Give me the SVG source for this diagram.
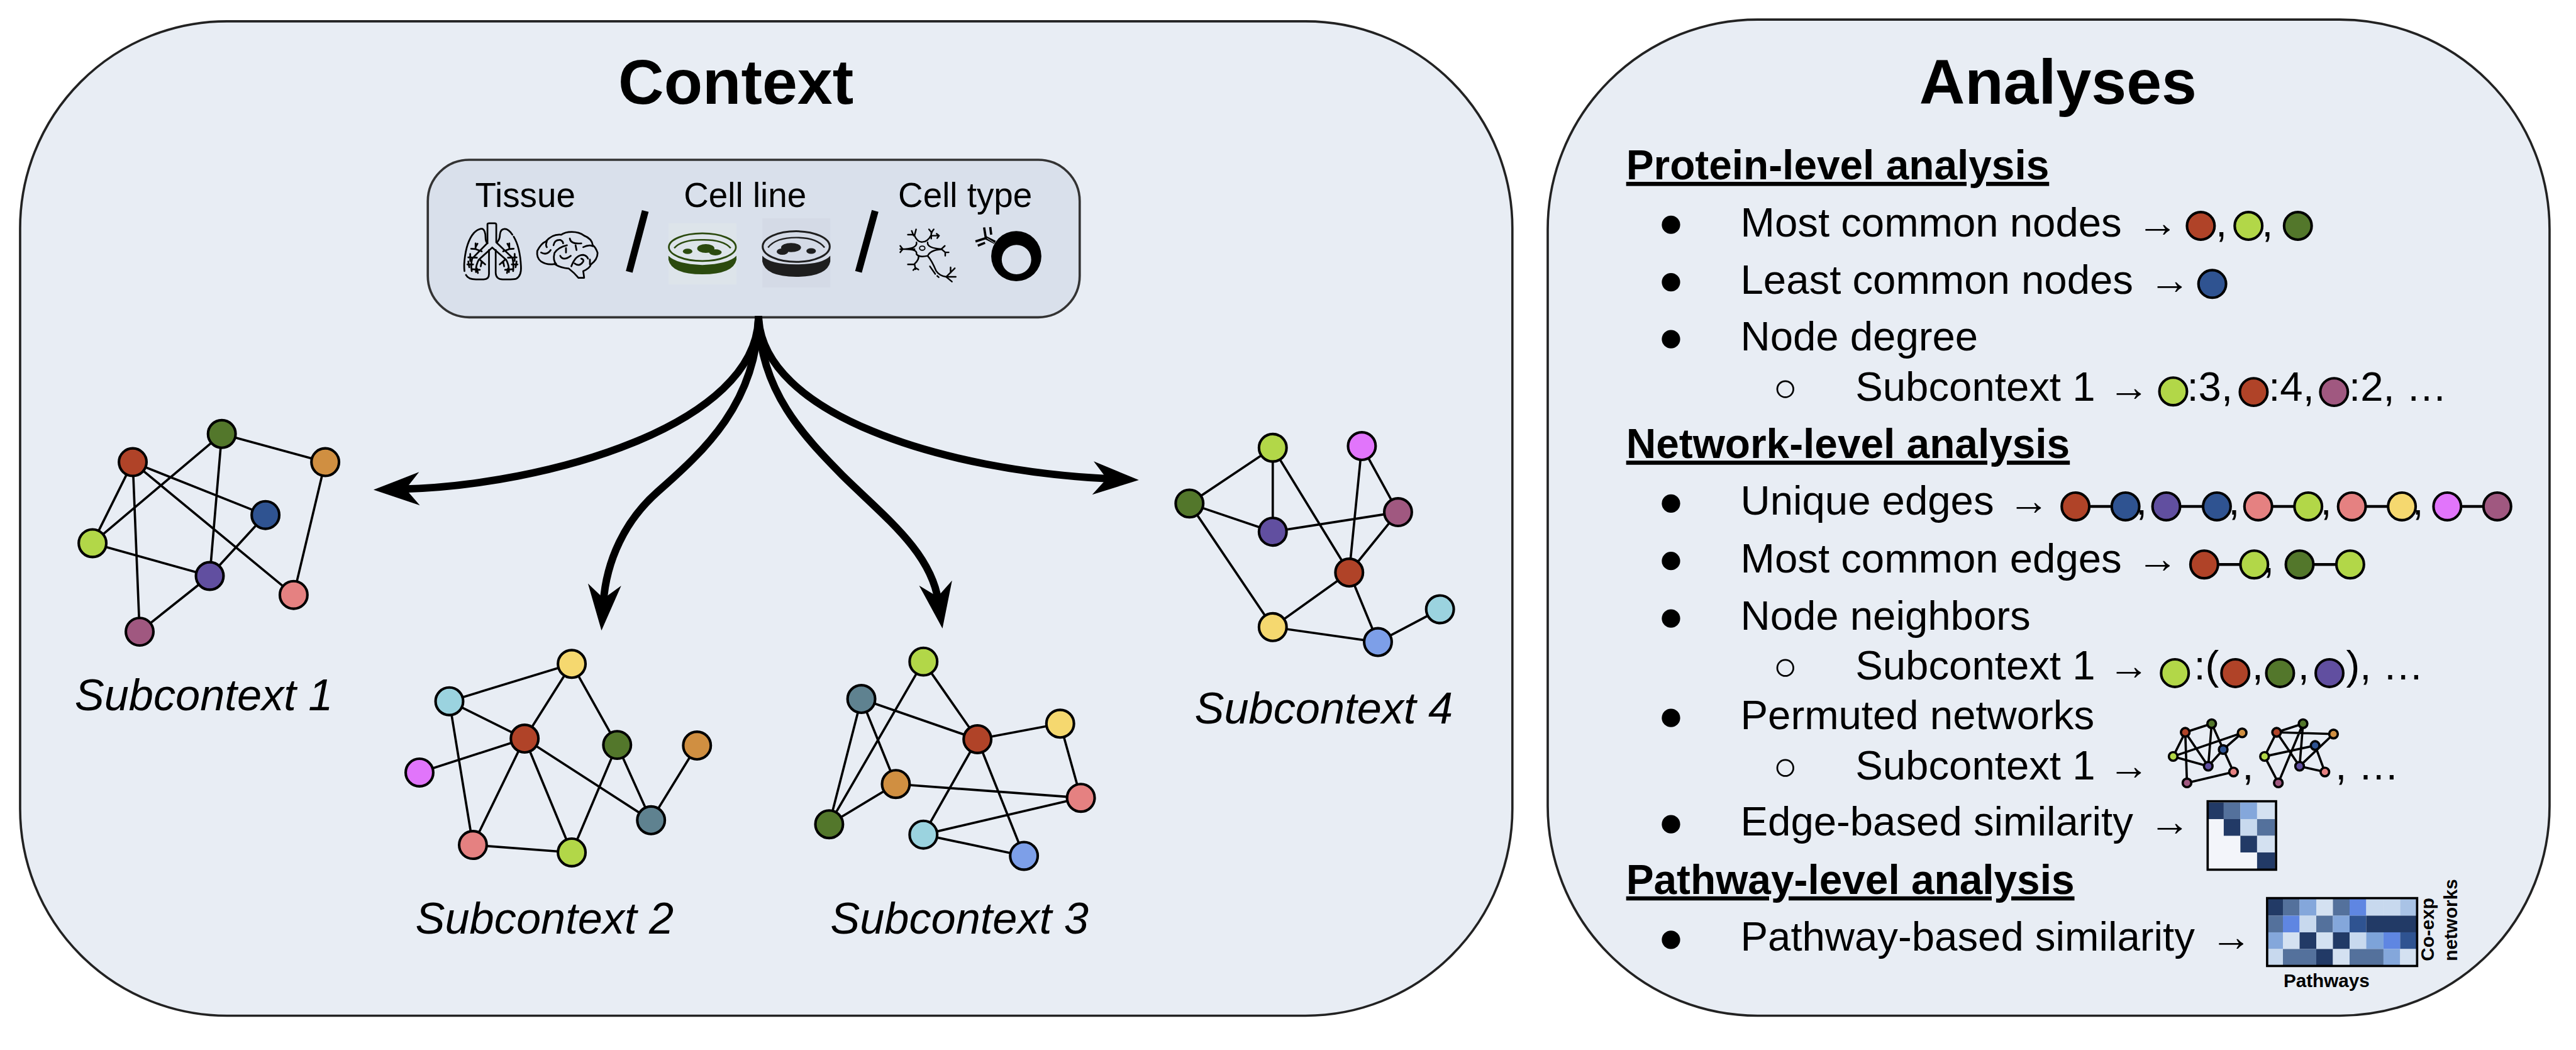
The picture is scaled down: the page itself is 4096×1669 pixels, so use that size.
<svg xmlns="http://www.w3.org/2000/svg" width="4096" height="1669" viewBox="0 0 4096 1669">
<style>
text{font-family:"Liberation Sans",Arial,sans-serif;fill:#000}
.title{font-size:110px;font-weight:700}
.sub{font-size:77px;font-style:italic}
.ctx{font-size:60px}
.t{font-size:71.5px}
.h{font-size:72px;font-weight:700;text-decoration:underline;text-decoration-skip-ink:none}
.s{font-size:32.5px;font-weight:700}
.panel{fill:#E8EDF4;stroke:#222;stroke-width:4}
.e{stroke:#000;stroke-width:4;fill:none}
.il{stroke:#000;stroke-width:5;fill:none}
.me{stroke:#000;stroke-width:4;fill:none}
.a{stroke:#000;stroke-width:13;fill:none;marker-end:url(#head)}
.n{stroke:#000;stroke-width:4.5}
.m{stroke:#000;stroke-width:4}
.bul{fill:#000}
.hol{fill:none;stroke:#000;stroke-width:3}
.red{fill:#B04328}.grn{fill:#53772B}.org{fill:#D08F41}.blu{fill:#2F5391}.lim{fill:#B2D748}.pur{fill:#614FA0}.pnk{fill:#E58181}.mau{fill:#A05880}.yel{fill:#F5D86F}.cya{fill:#9BD3DF}.mag{fill:#E175FB}.ste{fill:#5F8290}.per{fill:#7D9FE8}
.d{fill:#223A66}.k{fill:#54719C}.b{fill:#84A7DB}.p{fill:#D4E1F1}.q{fill:#C8D9EE}.v{fill:#5F86E2}.w{fill:#2F5391}.x{fill:#A9C3E6}.y{fill:#7DA3D9}.o{fill:#F3F5FA}
.ic{fill:none;stroke:#000;stroke-linecap:round;stroke-linejoin:round}
</style>
<defs>
<marker id="head" markerUnits="userSpaceOnUse" viewBox="-40 -35 95 70" refX="0" refY="0" markerWidth="95" markerHeight="70" orient="auto"><path d="M48,0 L-32,-29 L-8,0 L-32,29 Z" fill="#000"/></marker>
<g id="lungbr"><path d="M130,172 L98,160 M98,130 V160 M75,158 L98,160 M108,132 L98,150 M105,205 L60,203 M70,185 V222 M85,240 L55,240 M60,225 L65,255 M78,265 L120,268 M105,262 L110,285 M120,215 L148,240 M130,225 L125,250"/></g>
</defs>
<g transform="scale(0.91367)">
<g id="context-panel"><rect class="panel" x="35" y="37" width="2597" height="1730" rx="360" ry="360"/></g>
<g id="analyses-panel"><rect class="panel" x="2693.500" y="34" width="1743.500" height="1733" rx="365" ry="365"/></g>
<g id="context-box">
<rect x="744.500" y="278" width="1134.500" height="274" rx="72" ry="72" fill="#D9E0EB" stroke="#333" stroke-width="4"/>
<text class="ctx" x="827" y="360">Tissue</text>
<text class="ctx" x="1190" y="360">Cell line</text>
<text class="ctx" x="1563" y="360">Cell type</text>
<path d="M1123,367 L1095,473 M1523,367 L1494,473" stroke="#000" stroke-width="12" fill="none"/>
<g id="icon-lungs" transform="translate(795,380) scale(0.3333)" class="ic" stroke-width="9">
<path d="M160,128 V30 Q160,25 170,25 H198 Q206,25 206,32 V125 L290,205 Q298,235 294,275 M160,128 L80,210 Q72,240 78,275 M185,152 L115,215 Q98,245 100,280 M185,152 L257,215 Q274,245 272,280"/>
<path d="M135,55 Q115,50 90,75 Q50,120 40,220 Q37,250 40,275 M48,295 Q60,318 100,318 H140 Q168,318 168,290 V165 M135,55 Q150,65 150,100 Q150,120 160,130"/>
<path d="M210,125 Q225,110 225,85 Q228,55 250,55 Q270,55 290,85 M297,95 Q330,150 335,250 Q338,300 310,315 Q290,320 240,318 Q205,318 203,285 V165"/>
<use href="#lungbr"/><use href="#lungbr" transform="matrix(-1 0 0 1 372 0)"/>
<path d="M465,120 Q440,130 420,170 Q415,205 440,225 Q470,245 510,238 Q540,258 585,262 Q615,285 635,310 H665 L660,275 Q695,260 700,240 Q735,215 735,180 Q725,150 710,140 Q705,105 665,90 Q640,70 600,70 Q565,70 545,85 Q500,80 465,120 Z"/>
<path d="M470,120 Q462,140 470,150 M440,178 Q470,195 490,165 M505,140 Q510,110 540,112 Q555,120 555,130 M590,105 Q595,135 650,130 M620,140 L625,165 M660,150 Q690,135 710,145 M575,140 Q530,150 510,180 Q500,220 520,240 M570,155 V178 M540,195 Q555,225 595,195 M598,250 Q620,190 660,190 Q680,195 685,210 M615,235 Q640,255 660,225 Q665,215 650,210 M695,215 V240"/>
</g>
<g id="icon-dishes" transform="translate(1150,380) scale(0.3333)">
<rect x="40" y="25" width="355" height="320" fill="#DDE4EA"/>
<rect x="530" y="0" width="355" height="360" fill="#D4DAE6"/>
<g fill="#2B4A0E"><ellipse cx="217" cy="150" rx="175" ry="72" fill="none" stroke="#2B4A0E" stroke-width="9"/><path d="M70,155 Q110,110 217,112 Q325,110 365,155" fill="none" stroke="#2B4A0E" stroke-width="8"/><ellipse cx="140" cy="172" rx="25" ry="14"/><ellipse cx="235" cy="157" rx="45" ry="23"/><ellipse cx="285" cy="177" rx="33" ry="16"/><path d="M40,195 Q80,238 217,243 Q355,238 395,195 V215 Q380,290 217,292 Q55,290 40,215 Z"/></g>
<g fill="#1E1E1E"><ellipse cx="707" cy="147" rx="175" ry="80" fill="none" stroke="#1E1E1E" stroke-width="10"/><path d="M560,152 Q600,100 707,100 Q815,100 855,152" fill="none" stroke="#1E1E1E" stroke-width="8"/><ellipse cx="785" cy="170" rx="25" ry="15"/><ellipse cx="680" cy="152" rx="52" ry="24"/><ellipse cx="635" cy="173" rx="30" ry="17"/><path d="M530,195 Q570,240 707,240 Q845,240 885,195 V225 Q870,303 707,305 Q545,303 530,225 Z"/></g>
</g>
<g id="icon-cells" transform="translate(1555,385) scale(0.3333)">
<g class="ic" stroke-width="8">
<ellipse cx="150" cy="140" rx="14" ry="11" stroke-width="6"/>
<path d="M108,72 Q125,110 150,108 Q178,108 197,72 M178,110 Q175,140 250,145 M178,182 Q190,150 250,146 M35,145 H110 M120,110 Q125,140 60,145 M120,170 Q125,145 60,145 M120,172 Q135,190 178,180 Q200,205 222,258 Q240,285 275,290 H325 M130,180 Q135,200 110,222"/>
<path d="M95,50 L105,75 M75,70 H105 M118,42 L110,72 M185,42 L200,60 M210,42 L197,60 V90 M200,75 H235 M225,65 L238,75 L228,88 M250,145 L268,128 M250,145 L270,162 H288 M270,162 V180 M35,128 L48,145 L35,162 M75,225 H110 L115,250 M103,255 L115,243 L130,252 M275,290 L320,245 M298,240 V268 M275,290 L305,315 M190,235 L218,275 M228,285 L236,292"/>
</g>
<path d="M772,182 A131,131 0 1 1 510,182 A131,131 0 1 1 772,182 Z M719,200 A77,77 0 1 0 565,200 A77,77 0 1 0 719,200 Z" fill="#000" fill-rule="evenodd"/>
<path d="M530,110 L480,85" stroke="#000" stroke-width="18" fill="none"/><path d="M482,88 L428,105 M482,88 L473,32" stroke="#000" stroke-width="12" fill="none"/><path d="M440,127 L478,112 M505,30 L510,70" stroke="#000" stroke-width="12" fill="none"/><path d="M488,88 L528,114" stroke="#D9E0EB" stroke-width="3" fill="none"/>
</g>
</g>
<g id="connectors">
<path class="a" d="M1320,550 C1320,740 950,845 698,851"/>
<path class="a" d="M1320,550 C1318,700 1225,785 1145,855 C1088,905 1055,975 1050,1049"/>
<path class="a" d="M1320,550 C1322,680 1400,760 1466,827 C1540,900 1620,960 1633,1046"/>
<path class="a" d="M1320,550 C1325,720 1640,820 1934,833"/>
<g id="edges-subcontext-1"><path class="e" d="M231,804L161,945M231,804L243,1099M231,804L462,896M231,804L511,1035M386,755L161,945M386,755L365,1002M386,755L566,804M566,804L511,1035M462,896L365,1002M161,945L365,1002M365,1002L243,1099"/></g>
<g id="edges-subcontext-2"><path class="e" d="M782,1220L995,1155M782,1220L913,1285M782,1220L823,1470M995,1155L913,1285M995,1155L1074,1296M913,1285L730,1344M913,1285L823,1470M913,1285L995,1483M913,1285L1133,1427M1074,1296L995,1483M1074,1296L1133,1427M1133,1427L1213,1297M823,1470L995,1483"/></g>
<g id="edges-subcontext-3"><path class="e" d="M1607,1151L1443,1434M1607,1151L1701,1286M1499,1216L1701,1286M1499,1216L1443,1434M1499,1216L1559,1364M1701,1286L1845,1259M1701,1286L1607,1452M1701,1286L1782,1489M1845,1259L1881,1388M1559,1364L1881,1388M1559,1364L1443,1434M1881,1388L1607,1452M1607,1452L1782,1489"/></g>
<g id="edges-subcontext-4"><path class="e" d="M2215,779L2070,876M2215,779L2215,925M2215,779L2348,996M2370,776L2348,996M2370,776L2433,891M2070,876L2215,925M2070,876L2215,1091M2215,925L2433,891M2433,891L2348,996M2348,996L2215,1091M2348,996L2398,1117M2215,1091L2398,1117M2398,1117L2506,1060"/></g>
<g id="edges-inline"><path class="il" d="M3612,881H3699M3770,881H3858M3930,881H4017M4093,881H4180M4259,881H4346M3836,982H3923M4002,982H4090"/></g>
<g id="edges-perm-1"><path class="me" d="M3803,1274L3849,1259M3803,1274L3782,1316M3803,1274L3806,1362M3803,1274L3843,1333M3849,1259L3843,1333M3849,1259L3887,1343M3902,1275L3782,1316M3902,1275L3869,1304M3869,1304L3843,1333M3782,1316L3843,1333M3806,1362L3887,1343"/></g>
<g id="edges-perm-2"><path class="me" d="M3962,1274L4008,1259M3962,1274L4061,1277M3962,1274L3941,1316M3962,1274L4002,1333M4008,1259L3965,1362M4008,1259L4002,1333M4061,1277L4002,1333M3941,1316L4029,1297M3941,1316L3965,1362M4029,1297L4046,1343M4002,1333L4046,1343"/></g>
</g>
<g id="subcontext-1">
<g id="s1-green"><circle class="n grn" cx="386" cy="755" r="24"/></g><g id="s1-red"><circle class="n red" cx="231" cy="804" r="24"/></g><g id="s1-orange"><circle class="n org" cx="566" cy="804" r="24"/></g><g id="s1-blue"><circle class="n blu" cx="462" cy="896" r="24"/></g><g id="s1-lime"><circle class="n lim" cx="161" cy="945" r="24"/></g><g id="s1-purple"><circle class="n pur" cx="365" cy="1002" r="24"/></g><g id="s1-pink"><circle class="n pnk" cx="511" cy="1035" r="24"/></g><g id="s1-mauve"><circle class="n mau" cx="243" cy="1099" r="24"/></g>
<text class="sub" x="130" y="1236">Subcontext 1</text>
</g>
<g id="subcontext-2">
<g id="s2-yellow"><circle class="n yel" cx="995" cy="1155" r="24"/></g><g id="s2-cyan"><circle class="n cya" cx="782" cy="1220" r="24"/></g><g id="s2-red"><circle class="n red" cx="913" cy="1285" r="24"/></g><g id="s2-green"><circle class="n grn" cx="1074" cy="1296" r="24"/></g><g id="s2-orange"><circle class="n org" cx="1213" cy="1297" r="24"/></g><g id="s2-magenta"><circle class="n mag" cx="730" cy="1344" r="24"/></g><g id="s2-steel"><circle class="n ste" cx="1133" cy="1427" r="24"/></g><g id="s2-pink"><circle class="n pnk" cx="823" cy="1470" r="24"/></g><g id="s2-lime"><circle class="n lim" cx="995" cy="1483" r="24"/></g>
<text class="sub" x="723" y="1624">Subcontext 2</text>
</g>
<g id="subcontext-3">
<g id="s3-lime"><circle class="n lim" cx="1607" cy="1151" r="24"/></g><g id="s3-steel"><circle class="n ste" cx="1499" cy="1216" r="24"/></g><g id="s3-red"><circle class="n red" cx="1701" cy="1286" r="24"/></g><g id="s3-yellow"><circle class="n yel" cx="1845" cy="1259" r="24"/></g><g id="s3-orange"><circle class="n org" cx="1559" cy="1364" r="24"/></g><g id="s3-pink"><circle class="n pnk" cx="1881" cy="1388" r="24"/></g><g id="s3-green"><circle class="n grn" cx="1443" cy="1434" r="24"/></g><g id="s3-cyan"><circle class="n cya" cx="1607" cy="1452" r="24"/></g><g id="s3-blue"><circle class="n per" cx="1782" cy="1489" r="24"/></g>
<text class="sub" x="1445" y="1624">Subcontext 3</text>
</g>
<g id="subcontext-4">
<g id="s4-lime"><circle class="n lim" cx="2215" cy="779" r="24"/></g><g id="s4-magenta"><circle class="n mag" cx="2370" cy="776" r="24"/></g><g id="s4-green"><circle class="n grn" cx="2070" cy="876" r="24"/></g><g id="s4-purple"><circle class="n pur" cx="2215" cy="925" r="24"/></g><g id="s4-mauve"><circle class="n mau" cx="2433" cy="891" r="24"/></g><g id="s4-red"><circle class="n red" cx="2348" cy="996" r="24"/></g><g id="s4-yellow"><circle class="n yel" cx="2215" cy="1091" r="24"/></g><g id="s4-blue"><circle class="n per" cx="2398" cy="1117" r="24"/></g><g id="s4-cyan"><circle class="n cya" cx="2506" cy="1060" r="24"/></g>
<text class="sub" x="2079" y="1259">Subcontext 4</text>
</g>
<g id="titles"><text class="title" x="1076" y="181">Context</text><text class="title" x="3340" y="181">Analyses</text></g>
<g id="analysis-text">
<text class="h" x="2830" y="312">Protein-level analysis</text>
<text class="h" x="2830" y="797">Network-level analysis</text>
<text class="h" x="2830" y="1555">Pathway-level analysis</text>
<g class="bul"><circle cx="2908" cy="391" r="16"/><circle cx="2908" cy="491" r="16"/><circle cx="2908" cy="590" r="16"/><circle cx="2908" cy="876" r="16"/><circle cx="2908" cy="976" r="16"/><circle cx="2908" cy="1076" r="16"/><circle cx="2908" cy="1249" r="16"/><circle cx="2908" cy="1434" r="16"/><circle cx="2908" cy="1635" r="16"/></g>
<g class="hol"><circle cx="3107" cy="677" r="14"/><circle cx="3107" cy="1162" r="14"/><circle cx="3107" cy="1336" r="14"/></g>
<text class="t" x="3029" y="412">Most common nodes</text><text class="t" x="3719" y="412">→</text>
<text class="t" x="3029" y="511">Least common nodes</text><text class="t" x="3740" y="511">→</text>
<text class="t" x="3029" y="610">Node degree</text>
<text class="t" x="3229" y="697">Subcontext 1</text><text class="t" x="3669" y="697">→</text>
<text class="t" x="3029" y="895">Unique edges</text><text class="t" x="3495" y="895">→</text>
<text class="t" x="3029" y="996">Most common edges</text><text class="t" x="3719" y="996">→</text>
<text class="t" x="3029" y="1096">Node neighbors</text>
<text class="t" x="3229" y="1182">Subcontext 1</text><text class="t" x="3669" y="1182">→</text>
<text class="t" x="3029" y="1269">Permuted networks</text>
<text class="t" x="3229" y="1356">Subcontext 1</text><text class="t" x="3669" y="1356">→</text>
<text class="t" x="3029" y="1454">Edge-based similarity</text><text class="t" x="3740" y="1454">→</text>
<text class="t" x="3029" y="1654">Pathway-based similarity</text><text class="t" x="3847" y="1654">→</text>
<text class="t" x="3856" y="412">,</text><text class="t" x="3936" y="412">,</text>
<text class="t" x="3806" y="697">:3,</text><text class="t" x="3948" y="697">:4,</text><text class="t" x="4088" y="697">:2, …</text>
<text class="t" x="3717" y="895">,</text><text class="t" x="3878" y="895">,</text><text class="t" x="4038" y="895">,</text><text class="t" x="4198" y="895">,</text>
<text class="t" x="3938" y="996">,</text>
<text class="t" x="3818" y="1182">:(</text><text class="t" x="3919" y="1182">,</text><text class="t" x="3999" y="1182">,</text><text class="t" x="4083" y="1182">), …</text>
<text class="t" x="3902" y="1356">,</text><text class="t" x="4064" y="1356">, …</text>
<text class="s" x="3974" y="1717">Pathways</text>
<text class="s" transform="translate(4236,1672) rotate(-90)">Co-exp</text>
<text class="s" transform="translate(4276,1672) rotate(-90)">networks</text>
</g>
<g id="inline-nodes">
<circle class="n red" cx="3830" cy="393" r="24"/><circle class="n lim" cx="3913" cy="393" r="24"/><circle class="n grn" cx="3999" cy="393" r="24"/>
<circle class="n blu" cx="3850" cy="494" r="24"/>
<circle class="n lim" cx="3782" cy="681" r="24"/><circle class="n red" cx="3922" cy="682" r="24"/><circle class="n mau" cx="4062" cy="682" r="24"/>
<circle class="n red" cx="3612" cy="881" r="24"/><circle class="n blu" cx="3699" cy="881" r="24"/><circle class="n pur" cx="3770" cy="881" r="24"/><circle class="n blu" cx="3858" cy="881" r="24"/><circle class="n pnk" cx="3930" cy="881" r="24"/><circle class="n lim" cx="4017" cy="881" r="24"/><circle class="n pnk" cx="4093" cy="881" r="24"/><circle class="n yel" cx="4180" cy="881" r="24"/><circle class="n mag" cx="4259" cy="881" r="24"/><circle class="n mau" cx="4346" cy="881" r="24"/>
<circle class="n red" cx="3836" cy="982" r="24"/><circle class="n lim" cx="3923" cy="982" r="24"/><circle class="n grn" cx="4002" cy="982" r="24"/><circle class="n lim" cx="4090" cy="982" r="24"/>
<circle class="n lim" cx="3785" cy="1171" r="24"/><circle class="n red" cx="3890" cy="1171" r="24"/><circle class="n grn" cx="3968" cy="1171" r="24"/><circle class="n pur" cx="4054" cy="1171" r="24"/>
</g>
<g id="perm-network-1">
<circle class="m red" cx="3803" cy="1274" r="7.500"/><circle class="m grn" cx="3849" cy="1259" r="7.500"/><circle class="m org" cx="3902" cy="1275" r="7.500"/><circle class="m lim" cx="3782" cy="1316" r="7.500"/><circle class="m blu" cx="3869" cy="1304" r="7.500"/><circle class="m pur" cx="3843" cy="1333" r="7.500"/><circle class="m pnk" cx="3887" cy="1343" r="7.500"/><circle class="m mau" cx="3806" cy="1362" r="7.500"/>
</g>
<g id="perm-network-2">
<circle class="m red" cx="3962" cy="1274" r="7.500"/><circle class="m grn" cx="4008" cy="1259" r="7.500"/><circle class="m org" cx="4061" cy="1277" r="7.500"/><circle class="m lim" cx="3941" cy="1316" r="7.500"/><circle class="m blu" cx="4029" cy="1297" r="7.500"/><circle class="m pur" cx="4002" cy="1333" r="7.500"/><circle class="m pnk" cx="4046" cy="1343" r="7.500"/><circle class="m mau" cx="3965" cy="1362" r="7.500"/>
</g>
<g id="heatmap-edge">
<rect class="o" x="3842" y="1395" width="118" height="117"/>
<rect class="d" x="3843" y="1396" width="27" height="29"/><rect class="k" x="3870" y="1396" width="29" height="29"/><rect class="b" x="3899" y="1396" width="29" height="29"/><rect class="p" x="3928" y="1396" width="31" height="29"/>
<rect class="d" x="3870" y="1425" width="29" height="29"/><rect class="q" x="3899" y="1425" width="29" height="29"/><rect class="k" x="3928" y="1425" width="31" height="29"/>
<rect class="d" x="3899" y="1454" width="29" height="29"/><rect class="p" x="3928" y="1454" width="31" height="29"/>
<rect class="d" x="3928" y="1483" width="31" height="29"/>
<rect x="3842" y="1394" width="119" height="119" fill="none" stroke="#000" stroke-width="4"/>
</g>
<g id="heatmap-pathway">
<g>
<rect class="d" x="3947" y="1564" width="26" height="29"/><rect class="k" x="3973" y="1564" width="29" height="29"/><rect class="b" x="4002" y="1564" width="29" height="29"/><rect class="p" x="4031" y="1564" width="29" height="29"/><rect class="k" x="4060" y="1564" width="29" height="29"/><rect class="v" x="4089" y="1564" width="29" height="29"/><rect class="q" x="4118" y="1564" width="30" height="29"/><rect class="q" x="4148" y="1564" width="29" height="29"/><rect class="x" x="4177" y="1564" width="29" height="29"/>
<rect class="k" x="3947" y="1593" width="26" height="29"/><rect class="v" x="3973" y="1593" width="29" height="29"/><rect class="q" x="4002" y="1593" width="29" height="29"/><rect class="k" x="4031" y="1593" width="29" height="29"/><rect class="b" x="4060" y="1593" width="29" height="29"/><rect class="w" x="4089" y="1593" width="29" height="29"/><rect class="d" x="4118" y="1593" width="88" height="29"/>
<rect class="b" x="3947" y="1622" width="26" height="29"/><rect class="p" x="3973" y="1622" width="29" height="29"/><rect class="d" x="4002" y="1622" width="29" height="29"/><rect class="p" x="4031" y="1622" width="29" height="29"/><rect class="d" x="4060" y="1622" width="29" height="29"/><rect class="q" x="4089" y="1622" width="29" height="29"/><rect class="y" x="4118" y="1622" width="30" height="29"/><rect class="v" x="4148" y="1622" width="29" height="29"/><rect class="w" x="4177" y="1622" width="29" height="29"/>
<rect class="q" x="3947" y="1651" width="26" height="29"/><rect class="k" x="3973" y="1651" width="58" height="29"/><rect class="d" x="4031" y="1651" width="29" height="29"/><rect class="p" x="4060" y="1651" width="29" height="29"/><rect class="k" x="4089" y="1651" width="59" height="29"/><rect class="b" x="4148" y="1651" width="29" height="29"/><rect class="p" x="4177" y="1651" width="29" height="29"/>
</g>
<rect x="3945.500" y="1562.500" width="261" height="118" fill="none" stroke="#000" stroke-width="4"/>
</g>
</g>
</svg>
